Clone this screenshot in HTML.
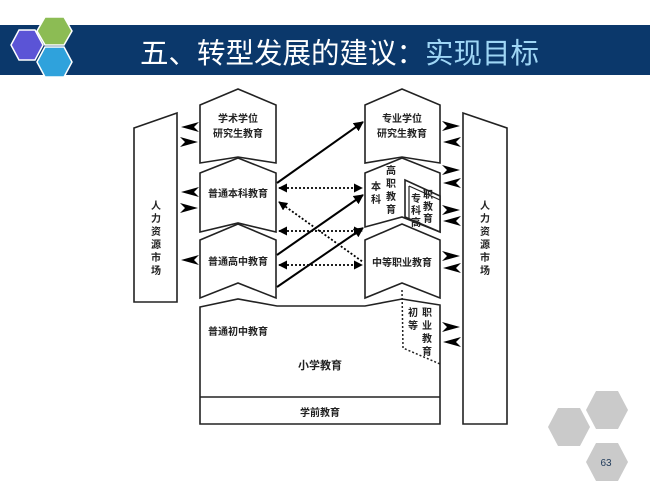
<!DOCTYPE html>
<html><head><meta charset="utf-8"><style>
body{margin:0;width:650px;height:488px;overflow:hidden;background:#fff;font-family:"Liberation Sans","Noto Sans CJK SC",sans-serif}
</style></head><body>
<svg width="650" height="488" viewBox="0 0 650 488" xmlns="http://www.w3.org/2000/svg" font-family="Liberation Sans, Noto Sans CJK SC, sans-serif">
<defs>
<marker id="ah" viewBox="0 0 10 10" refX="9" refY="5" markerWidth="5" markerHeight="5" orient="auto-start-reverse"><path d="M0,0 L10,5 L0,10 z" fill="#000"/></marker>
<path id="ar" d="M0,-5 L18,0 L0,5 L5,0 z" fill="#000"/>
</defs>
<!-- header -->
<rect x="0" y="25" width="650" height="50" fill="#0b386b"/>
<polygon points="11,45 19,30 35,30 43,45 35,60 19,60" fill="#5b54d6" stroke="#fff" stroke-width="1.5"/>
<polygon points="37,31 45,17 64,17 72,31 64,45 45,45" fill="#8cbc54" stroke="#fff" stroke-width="1.5"/>
<polygon points="37,62 45,47 64,47 72,62 64,77 45,77" fill="#2fa2dc" stroke="#fff" stroke-width="1.5"/>
<text x="140" y="63" font-size="28.5" fill="#fff">五、转型发展的建议：<tspan fill="#9fd6f5">实现目标</tspan></text>

<g fill="#fff" stroke="#222" stroke-width="1.6">
<polygon points="134,128 177,113 177,302 134,302"/>
<polygon points="463,113 507,128 507,424 463,424"/>
<polygon points="200,105 238,89 276,105 276,163 238,157 200,163"/>
<polygon points="200,173 238,158 276,173 276,232 238,223 200,232"/>
<polygon points="200,240 238,224 276,240 276,298 238,283 200,298"/>
<polygon points="365,105 402,89 440,105 440,163 402,157 365,163"/>
<polygon points="365,173 402,158 440,173 440,232 402,217 365,227"/>
<polygon points="405,180 440,196 440,232 405,217" />
<polygon points="365,240 402,224 440,240 440,298 402,283 365,298"/>
<polygon points="200,307 238,299 277,306 365,306 402,299 440,305 440,424 200,424"/>
</g>
<line x1="200" y1="397" x2="440" y2="397" stroke="#222" stroke-width="1.6"/>
<polyline points="409,186 409,219" stroke="#222" stroke-width="1.2" fill="none"/>
<polyline points="409,186 440,200" stroke="#222" stroke-width="1.2" fill="none"/>
<polyline points="402,290 403,348 440,364" stroke="#222" stroke-width="1.5" stroke-dasharray="2,2" fill="none"/>

<g>
<use href="#ar" transform="translate(199,127) scale(-1,1)"/>
<use href="#ar" transform="translate(180,142)"/>
<use href="#ar" transform="translate(199,192) scale(-1,1)"/>
<use href="#ar" transform="translate(180,208)"/>
<use href="#ar" transform="translate(199,260) scale(-1,1)"/>
<use href="#ar" transform="translate(442,126)"/>
<use href="#ar" transform="translate(461,142) scale(-1,1)"/>
<use href="#ar" transform="translate(442,170)"/>
<use href="#ar" transform="translate(461,183) scale(-1,1)"/>
<use href="#ar" transform="translate(442,210)"/>
<use href="#ar" transform="translate(461,221) scale(-1,1)"/>
<use href="#ar" transform="translate(442,256)"/>
<use href="#ar" transform="translate(461,268) scale(-1,1)"/>
<use href="#ar" transform="translate(442,327)"/>
<use href="#ar" transform="translate(461,342) scale(-1,1)"/>
</g>
<g stroke="#000" stroke-width="2" marker-end="url(#ah)">
<line x1="277" y1="183" x2="363" y2="122"/>
<line x1="277" y1="255" x2="363" y2="195"/>
<line x1="277" y1="287" x2="363" y2="228"/>
</g>
<g stroke="#000" stroke-width="1.8" stroke-dasharray="2,2" marker-start="url(#ah)" marker-end="url(#ah)">
<line x1="279" y1="188" x2="362" y2="188"/>
<line x1="279" y1="231" x2="362" y2="231"/>
<line x1="279" y1="265" x2="362" y2="265"/>
</g>
<line x1="279" y1="202" x2="363" y2="262" stroke="#000" stroke-width="1.8" stroke-dasharray="2,2" marker-start="url(#ah)"/>

<g font-size="10" font-weight="bold" fill="#222" text-anchor="middle">
<text x="238" y="122">学术学位</text><text x="238" y="137">研究生教育</text>
<text x="402" y="122">专业学位</text><text x="402" y="137">研究生教育</text>
<text x="238" y="197">普通本科教育</text>
<text x="238" y="265">普通高中教育</text>
<text x="402" y="266">中等职业教育</text>
<text x="238" y="335">普通初中教育</text>
<text x="320" y="369" font-size="11">小学教育</text>
<text x="320" y="416">学前教育</text>
<text x="376" y="190">本</text><text x="376" y="203">科</text>
<text x="391" y="174">高</text><text x="391" y="187">职</text><text x="391" y="200">教</text><text x="391" y="213">育</text>
<text x="416" y="202">专</text><text x="416" y="214">科</text><text x="416" y="226">高</text>
<text x="428" y="198">职</text><text x="428" y="210">教</text><text x="428" y="222">育</text>
<text x="413" y="316">初</text><text x="413" y="329">等</text>
<text x="427" y="316">职</text><text x="427" y="329">业</text><text x="427" y="342">教</text><text x="427" y="355">育</text>
<text x="156" y="209">人</text><text x="156" y="222">力</text><text x="156" y="235">资</text><text x="156" y="248">源</text><text x="156" y="261">市</text><text x="156" y="274">场</text>
<text x="485" y="209">人</text><text x="485" y="222">力</text><text x="485" y="235">资</text><text x="485" y="248">源</text><text x="485" y="261">市</text><text x="485" y="274">场</text>
</g>

<polygon points="548,427 558,408 580,408 590,427 580,446 558,446" fill="#cacaca"/>
<polygon points="586,410 596,391 618,391 628,410 618,429 596,429" fill="#cacaca"/>
<polygon points="586,462 596,443 618,443 628,462 618,481 596,481" fill="#cacaca"/>
<text x="606" y="466" font-size="10" fill="#1f3a5a" text-anchor="middle">63</text>
</svg>
</body></html>
